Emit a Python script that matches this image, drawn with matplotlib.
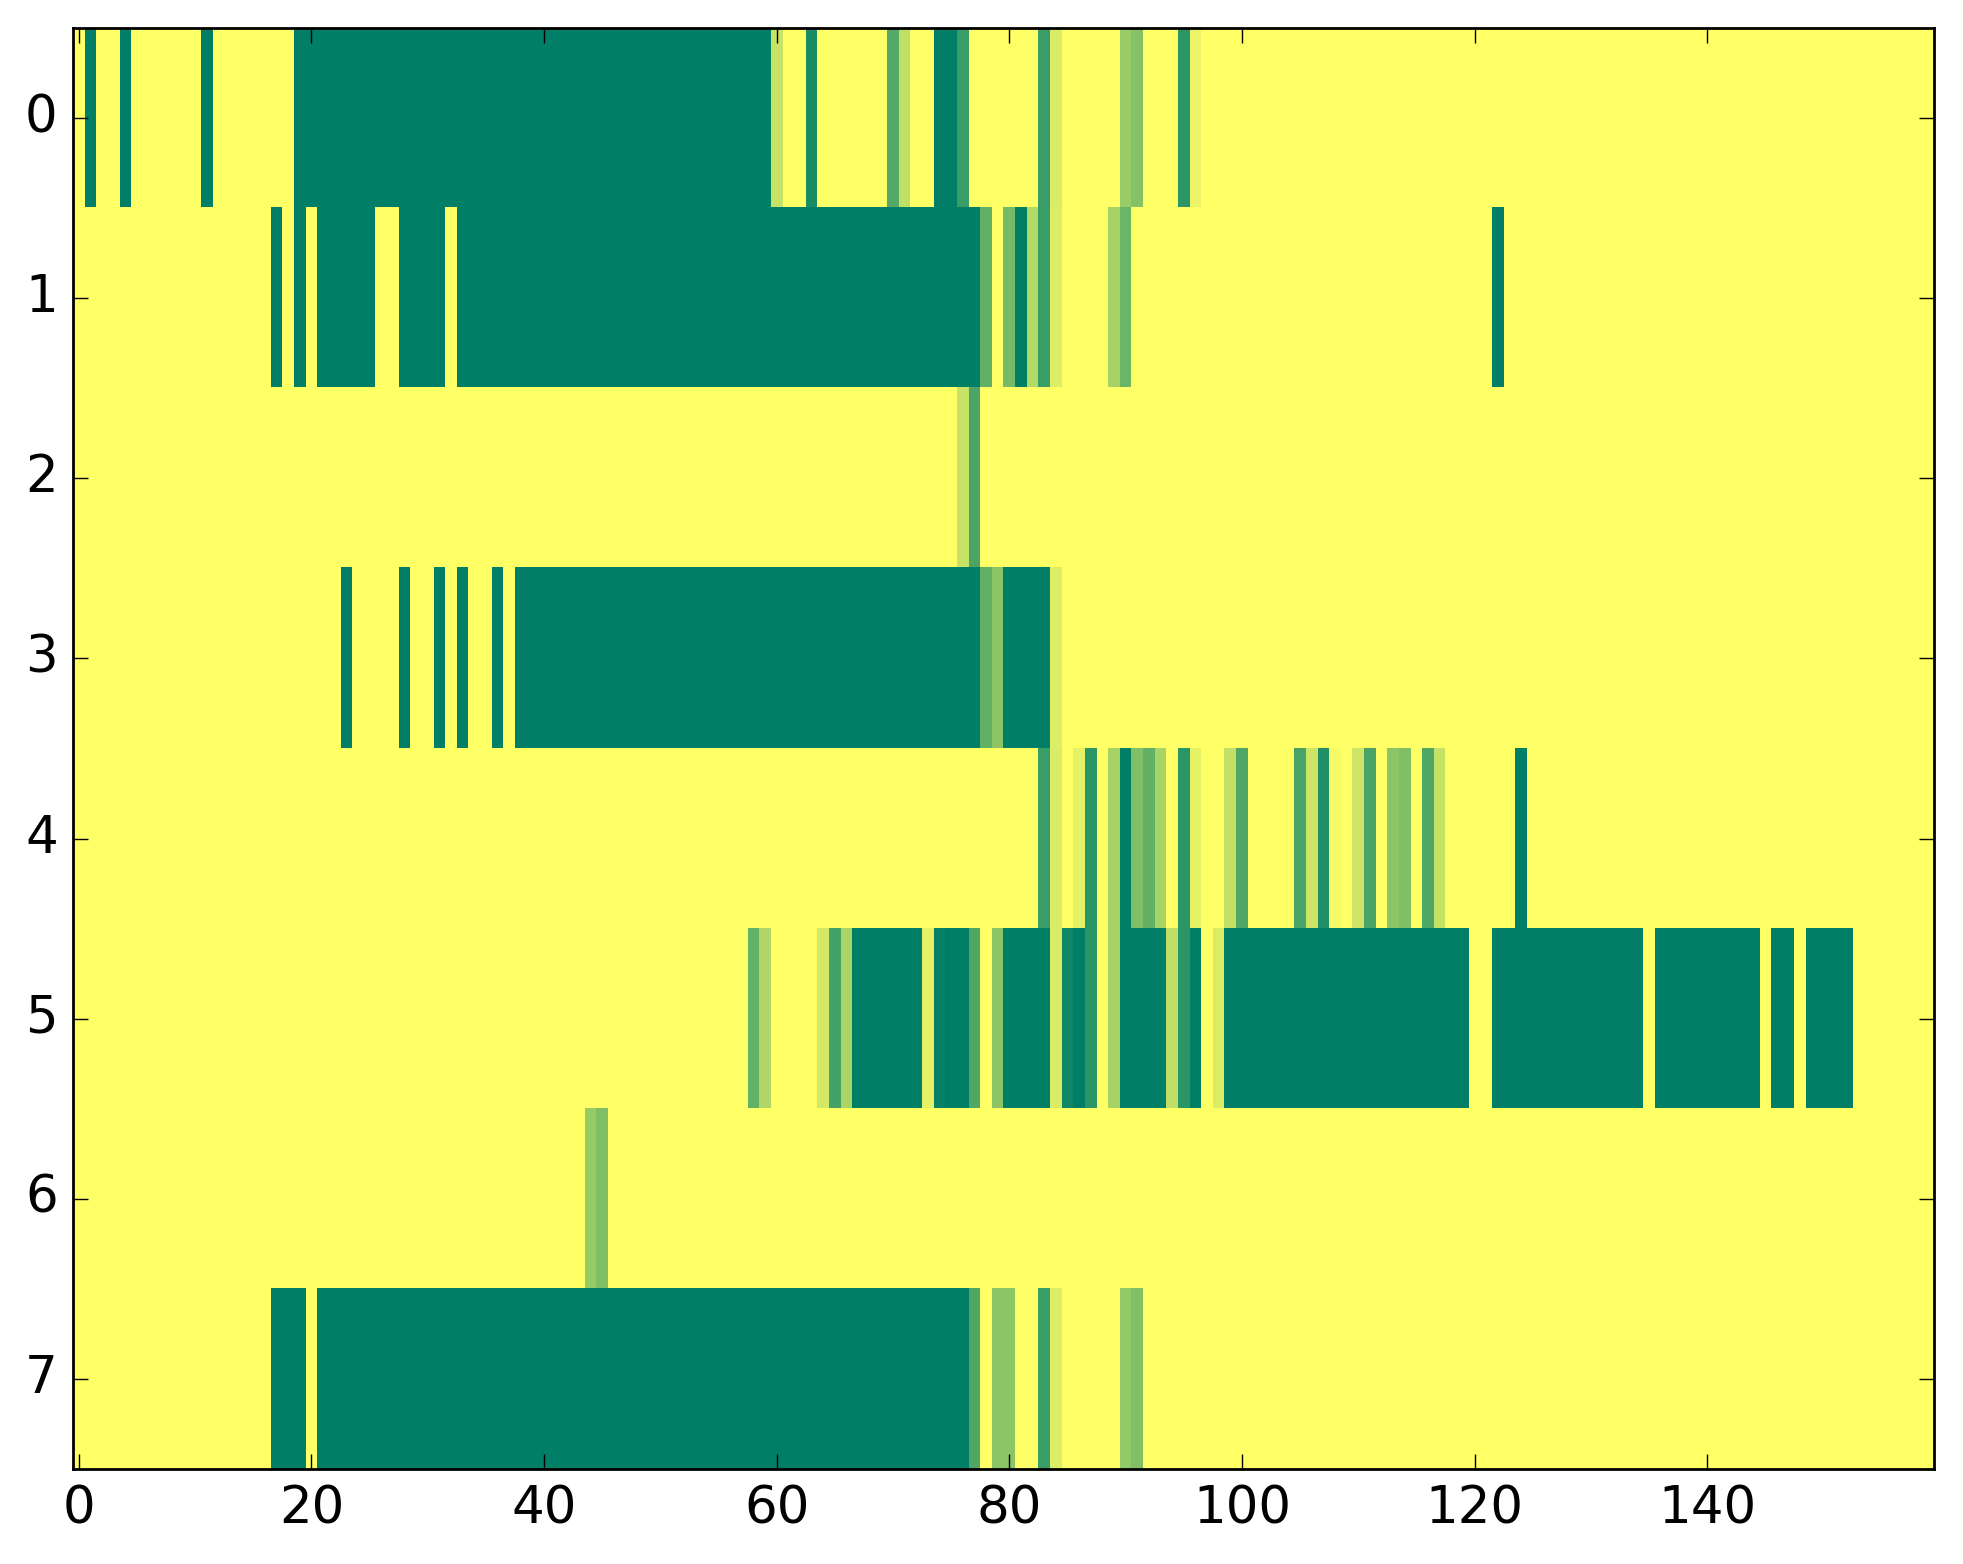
import numpy as np
import matplotlib
matplotlib.use("Agg")
import matplotlib.pyplot as plt

# each row: runs of (first column, last column, value); unlisted cells are 1.0
n_cols = 160
row0 = [(1, 1, 0), (4, 4, 0), (11, 11, 0), (19, 59, 0), (60, 60, 0.78), (63, 63, 0.1),
        (70, 70, 0.33), (71, 71, 0.75), (74, 75, 0), (76, 76, 0.23), (83, 83, 0.23),
        (84, 84, 0.85), (90, 90, 0.6), (91, 91, 0.52), (95, 95, 0.17), (96, 96, 0.92)]
row1 = [(17, 17, 0), (19, 19, 0), (21, 25, 0), (28, 31, 0), (33, 77, 0), (78, 78, 0.38),
        (80, 80, 0.46), (81, 81, 0), (82, 82, 0.7), (83, 83, 0.23), (84, 84, 0.86),
        (89, 89, 0.65), (90, 90, 0.42), (122, 122, 0)]
row2 = [(76, 76, 0.78), (77, 77, 0.3)]
row3 = [(23, 23, 0), (28, 28, 0), (31, 31, 0), (33, 33, 0), (36, 36, 0), (38, 77, 0),
        (78, 78, 0.38), (79, 79, 0.55), (80, 83, 0), (84, 84, 0.86)]
row4 = [(83, 83, 0.23), (84, 84, 0.85), (86, 86, 0.9), (87, 87, 0.17), (89, 89, 0.65),
        (90, 90, 0), (91, 91, 0.5), (92, 92, 0.39), (93, 93, 0.66), (95, 95, 0.17),
        (96, 96, 0.9), (99, 99, 0.76), (100, 100, 0.31), (105, 105, 0.28), (106, 106, 0.8),
        (107, 107, 0.13), (108, 108, 0.96), (110, 110, 0.8), (111, 111, 0.29),
        (113, 113, 0.55), (114, 114, 0.5), (116, 116, 0.31), (117, 117, 0.77), (124, 124, 0)]
row5 = [(58, 58, 0.39), (59, 59, 0.69), (64, 64, 0.83), (65, 65, 0.27), (66, 66, 0.67),
        (67, 72, 0), (73, 73, 0.9), (74, 74, 0.02), (75, 76, 0), (77, 77, 0.31),
        (79, 79, 0.55), (80, 83, 0), (84, 84, 0.85), (85, 85, 0.06), (86, 86, 0),
        (87, 87, 0.17), (89, 89, 0.65), (90, 93, 0), (94, 94, 0.75), (95, 95, 0.17),
        (96, 96, 0), (98, 98, 0.85), (99, 119, 0), (122, 134, 0), (136, 144, 0),
        (146, 147, 0), (149, 152, 0)]
row6 = [(44, 44, 0.59), (45, 45, 0.5)]
row7 = [(17, 19, 0), (21, 76, 0), (77, 77, 0.31), (79, 80, 0.55), (83, 83, 0.23),
        (84, 84, 0.86), (90, 90, 0.58), (91, 91, 0.5)]
rows = [row0, row1, row2, row3, row4, row5, row6, row7]

x_ticks = [0, 20, 40, 60, 80, 100, 120, 140]
y_ticks = [0, 1, 2, 3, 4, 5, 6, 7]

data = np.ones((len(rows), n_cols))
for i, runs in enumerate(rows):
    for first, last, val in runs:
        data[i, first:last + 1] = val

plt.style.use('classic')
fig = plt.figure(figsize=(19.63, 15.64), dpi=100, facecolor='white')
ax = fig.add_axes([0.0372, 0.0607, 0.948, 0.9214])

ax.imshow(data, cmap='summer', vmin=0, vmax=1, aspect='auto', interpolation='nearest')
ax.set_xlim(-0.5, n_cols - 0.5)
ax.set_ylim(len(rows) - 0.5, -0.5)
ax.set_xticks(x_ticks)
ax.set_yticks(y_ticks)

for s in ax.spines.values():
    s.set_linewidth(2.0)
ax.tick_params(direction='in', length=10.8, width=1.0, labelsize=37, pad=11,
               top=True, right=True)

plt.savefig("out.png", dpi=100, facecolor='white')
